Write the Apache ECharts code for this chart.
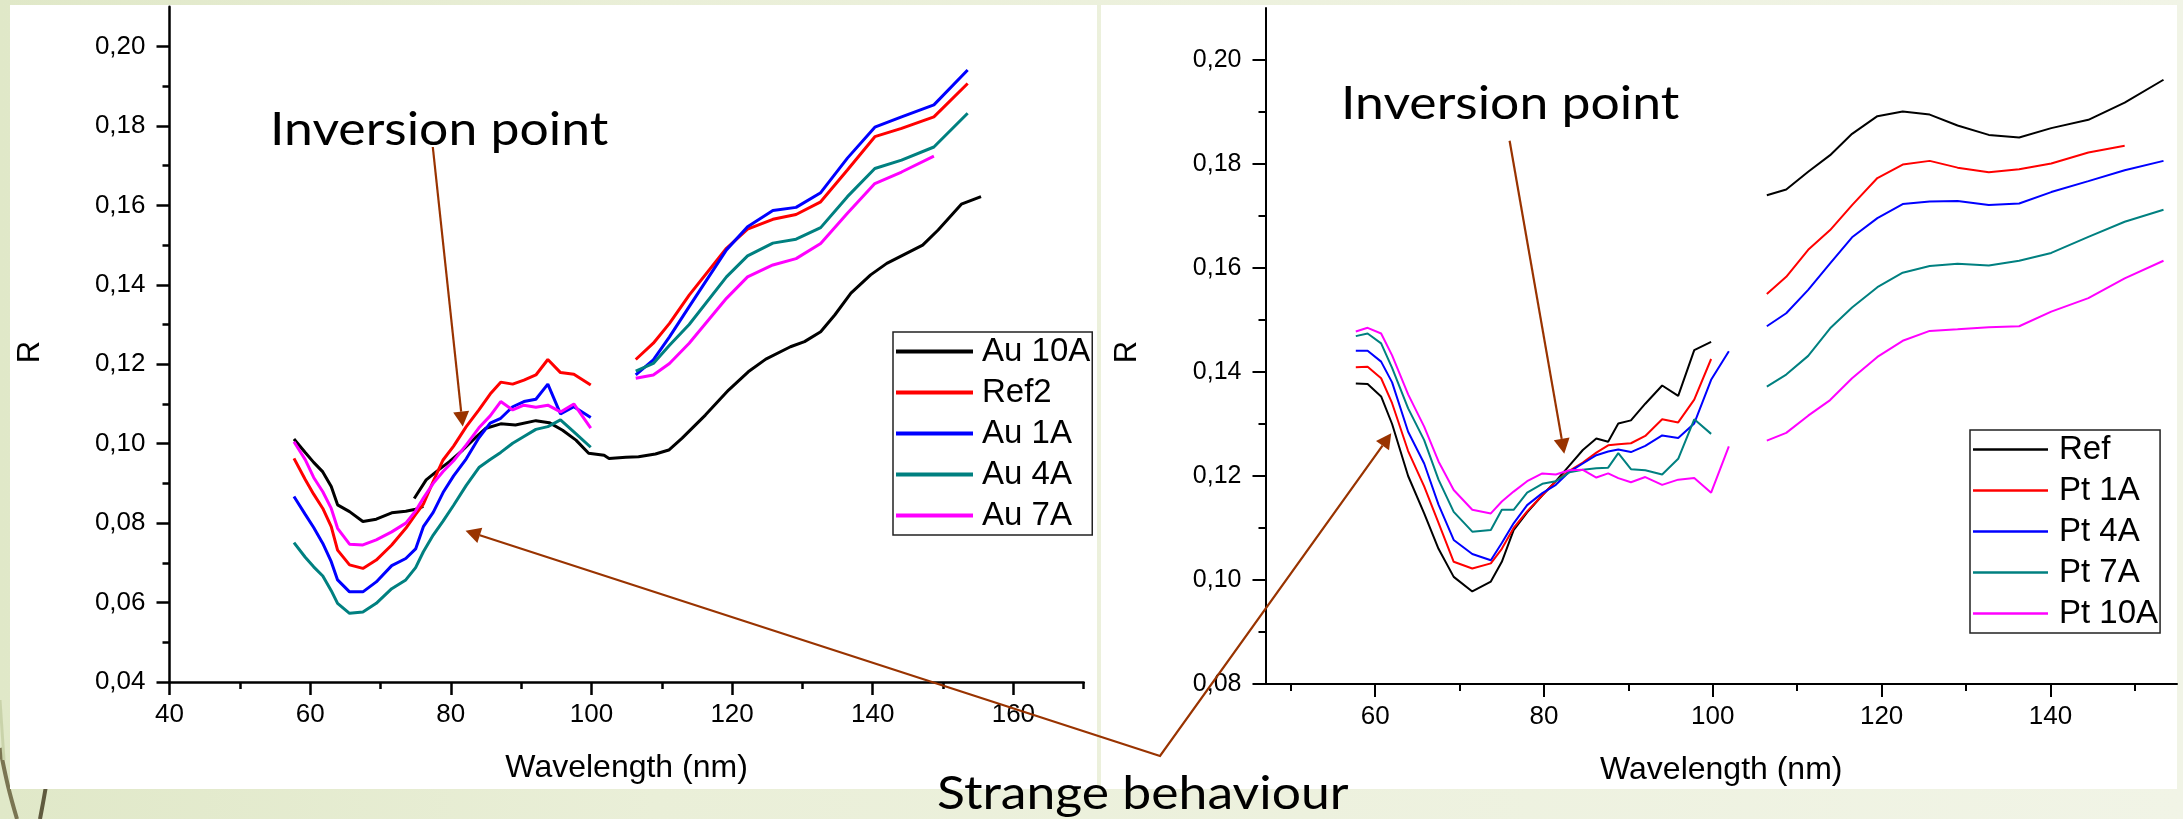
<!DOCTYPE html>
<html>
<head>
<meta charset="utf-8">
<title>Reflectance spectra: Au and Pt coatings</title>
<script src="https://cdn.jsdelivr.net/npm/echarts@6/dist/echarts.min.js"></script>
<style>
  html, body { margin: 0; padding: 0; }
  body {
    width: 2183px; height: 819px; overflow: hidden;
    background: linear-gradient(to right, #e0e8c8 0%, #eaefd8 30%, #f1f4e6 100%);
  }
  #chart { width: 2183px; height: 819px; }
</style>
</head>
<body>
<div id="chart"></div>
<script>
// ---------- Au samples (left panel) ----------
// wavelength grid of the short-wavelength scan (nm)
const auWlA = [57.7, 59.3, 60.5, 61.8, 63.0, 63.9, 65.6, 67.5, 69.4, 71.6, 73.6, 75.0, 76.1, 77.5,
               78.9, 80.4, 82.2, 84.0, 85.6, 87.1, 88.8, 90.4, 92.1, 93.8, 95.6, 97.5, 99.9];
// wavelength grid of the long-wavelength scan (nm)
const auWlB = [106.3, 108.8, 111.1, 113.9, 119.2, 122.2, 125.8, 129.1, 132.6, 136.4, 140.3, 144.1, 148.7, 153.5];

// Au 10A was recorded in two overlapping pieces on its own grid
const au10aWlA = [57.7, 59.3, 60.5, 61.8, 63.0, 63.9, 65.6, 67.5, 69.4, 71.6, 73.6, 75.0, 76.1];
const au10aA   = [0.1012, 0.0978, 0.0953, 0.0929, 0.0892, 0.0846, 0.0829, 0.0804, 0.0810, 0.0826, 0.0830, 0.0835, 0.0842];
const au10aWlB = [74.8, 76.5, 77.9, 79.8, 81.7, 83.5, 85.0, 87.1, 89.2, 92.1, 94.0, 95.9, 97.8, 99.6,
                  101.8, 102.5, 104.9, 106.7, 109.1, 111.0, 112.9, 116.2, 119.5, 122.3, 124.8, 128.3,
                  130.3, 132.6, 134.6, 136.9, 139.7, 142.0, 147.1, 149.3, 152.6, 155.4];
const au10aB   = [0.0862, 0.0909, 0.0929, 0.0955, 0.0984, 0.1015, 0.1039, 0.1050, 0.1047, 0.1058, 0.1053, 0.1034, 0.1009, 0.0976,
                  0.0971, 0.0963, 0.0966, 0.0967, 0.0974, 0.0984, 0.1014, 0.1072, 0.1135, 0.1181, 0.1213, 0.1244,
                  0.1257, 0.1282, 0.1324, 0.1379, 0.1425, 0.1454, 0.1500, 0.1538, 0.1603, 0.1622];

const ref2A = [0.0963, 0.0910, 0.0873, 0.0837, 0.0791, 0.0732, 0.0695, 0.0686, 0.0707, 0.0745, 0.0787, 0.0822, 0.0848, 0.0905,
               0.0959, 0.0994, 0.1043, 0.1085, 0.1125, 0.1155, 0.1150, 0.1160, 0.1173, 0.1212, 0.1179, 0.1175, 0.1148];
const ref2B = [0.1212, 0.1253, 0.1303, 0.1374, 0.1492, 0.1540, 0.1565, 0.1577, 0.1609, 0.1689, 0.1773, 0.1794, 0.1823, 0.1907];

const au1aA = [0.0867, 0.0822, 0.0789, 0.0749, 0.0703, 0.0657, 0.0627, 0.0627, 0.0652, 0.0693, 0.0711, 0.0735, 0.0791, 0.0827,
               0.0877, 0.0919, 0.0962, 0.1015, 0.1052, 0.1064, 0.1093, 0.1106, 0.1112, 0.1150, 0.1075, 0.1093, 0.1066];
const au1aB = [0.1173, 0.1211, 0.1269, 0.1345, 0.1488, 0.1546, 0.1587, 0.1595, 0.1632, 0.1719, 0.1797, 0.1823, 0.1853, 0.1941];

const au4aA = [0.0751, 0.0714, 0.0690, 0.0667, 0.0630, 0.0598, 0.0573, 0.0576, 0.0598, 0.0635, 0.0657, 0.0688, 0.0728, 0.0770,
               0.0805, 0.0845, 0.0895, 0.0940, 0.0960, 0.0978, 0.1001, 0.1018, 0.1036, 0.1043, 0.1060, 0.1030, 0.0991];
const au4aB = [0.1183, 0.1202, 0.1248, 0.1300, 0.1420, 0.1473, 0.1505, 0.1515, 0.1544, 0.1622, 0.1693, 0.1714, 0.1747, 0.1832];

const au7aA = [0.1005, 0.0960, 0.0915, 0.0879, 0.0837, 0.0787, 0.0747, 0.0745, 0.0758, 0.0778, 0.0800, 0.0831, 0.0863, 0.0900,
               0.0930, 0.0957, 0.0997, 0.1040, 0.1070, 0.1106, 0.1085, 0.1097, 0.1092, 0.1097, 0.1080, 0.1100, 0.1039];
const au7aB = [0.1165, 0.1173, 0.1202, 0.1253, 0.1366, 0.1420, 0.1450, 0.1466, 0.1504, 0.1580, 0.1655, 0.1684, 0.1724];

// ---------- Pt samples (right panel) ----------
const ptWlA = [57.7, 59.1, 60.7, 62.0, 63.9, 65.8, 67.5, 69.3, 71.5, 73.7, 75.0, 76.4, 78.0, 79.8,
               81.4, 83.0, 84.6, 86.2, 87.6, 88.8, 90.3, 92.0, 94.0, 95.9, 97.8, 99.8, 101.9];
const ptWlB = [106.4, 108.7, 111.3, 113.9, 116.5, 119.5, 122.5, 125.7, 129.0, 132.7, 136.3, 140.1, 144.5, 148.8, 153.4];

const refA = [0.1378, 0.1377, 0.1353, 0.1300, 0.1200, 0.1128, 0.1060, 0.1006, 0.0978, 0.0997, 0.1035, 0.1096, 0.1130, 0.1163,
              0.1190, 0.1220, 0.1250, 0.1272, 0.1266, 0.1301, 0.1307, 0.1339, 0.1374, 0.1354, 0.1442, 0.1458];
const refB = [0.1740, 0.1751, 0.1785, 0.1817, 0.1858, 0.1892, 0.1901, 0.1895, 0.1874, 0.1856, 0.1851, 0.1869, 0.1885, 0.1918, 0.1962];

const pt1aA = [0.1409, 0.1410, 0.1388, 0.1340, 0.1248, 0.1180, 0.1110, 0.1035, 0.1022, 0.1032, 0.1060, 0.1100, 0.1132, 0.1163,
               0.1190, 0.1210, 0.1226, 0.1245, 0.1259, 0.1261, 0.1263, 0.1277, 0.1309, 0.1303, 0.1347, 0.1425];
const pt1aB = [0.1550, 0.1583, 0.1635, 0.1673, 0.1721, 0.1773, 0.1799, 0.1806, 0.1793, 0.1784, 0.1790, 0.1801, 0.1822, 0.1835];

const pt4aA = [0.1441, 0.1441, 0.1420, 0.1380, 0.1285, 0.1224, 0.1145, 0.1077, 0.1050, 0.1038, 0.1071, 0.1109, 0.1144, 0.1167,
               0.1183, 0.1208, 0.1224, 0.1240, 0.1247, 0.1251, 0.1246, 0.1258, 0.1278, 0.1273, 0.1301, 0.1385, 0.1440];
const pt4aB = [0.1488, 0.1513, 0.1558, 0.1609, 0.1659, 0.1696, 0.1723, 0.1728, 0.1729, 0.1721, 0.1724, 0.1746, 0.1767, 0.1788, 0.1806];

const pt7aA = [0.1469, 0.1474, 0.1455, 0.1408, 0.1330, 0.1269, 0.1193, 0.1131, 0.1093, 0.1096, 0.1135, 0.1135, 0.1168, 0.1185,
               0.1190, 0.1207, 0.1212, 0.1215, 0.1216, 0.1244, 0.1213, 0.1211, 0.1203, 0.1233, 0.1309, 0.1281];
const pt7aB = [0.1372, 0.1395, 0.1431, 0.1484, 0.1524, 0.1563, 0.1591, 0.1604, 0.1608, 0.1605, 0.1614, 0.1629, 0.1660, 0.1689, 0.1712];

const pt10aA = [0.1478, 0.1485, 0.1474, 0.1432, 0.1357, 0.1295, 0.1228, 0.1173, 0.1135, 0.1128, 0.1151, 0.1170, 0.1190, 0.1205,
                0.1203, 0.1211, 0.1212, 0.1197, 0.1205, 0.1196, 0.1188, 0.1198, 0.1183, 0.1193, 0.1196, 0.1168, 0.1257];
const pt10aB = [0.1268, 0.1283, 0.1316, 0.1346, 0.1388, 0.1429, 0.1460, 0.1479, 0.1482, 0.1486, 0.1488, 0.1516, 0.1542, 0.1580, 0.1614];

// ---------- axis ticks ----------
const auXMajor = [40, 60, 80, 100, 120, 140, 160];
const auXMinor = [50, 70, 90, 110, 130, 150, 170];
const auYMajor = [0.04, 0.06, 0.08, 0.10, 0.12, 0.14, 0.16, 0.18, 0.20];
const auYMinor = [0.05, 0.07, 0.09, 0.11, 0.13, 0.15, 0.17, 0.19];
const ptXMajor = [60, 80, 100, 120, 140];
const ptXMinor = [50, 70, 90, 110, 130, 150];
const ptYMajor = [0.08, 0.10, 0.12, 0.14, 0.16, 0.18, 0.20];
const ptYMinor = [0.09, 0.11, 0.13, 0.15, 0.17, 0.19];

const auNames = ['Au 10A', 'Ref2', 'Au 1A', 'Au 4A', 'Au 7A'];
const ptNames = ['Ref', 'Pt 1A', 'Pt 4A', 'Pt 7A', 'Pt 10A'];
const palette = ['#000000', '#ff0000', '#0000ff', '#008080', '#ff00ff'];

const SANS = '"Liberation Sans", Arial, sans-serif';
const SLIDE = 'Lato, "Noto Sans", sans-serif';
const BROWN = '#993300';

function pairs(wl, vals) {
  return vals.map((v, i) => [wl[i], v]);
}
const comma = v => v.toFixed(2).replace('.', ',');

function lineSeries(name, color, wl, vals, axis, width) {
  return {
    type: 'line', name: name,
    xAxisIndex: axis, yAxisIndex: axis,
    data: pairs(wl, vals),
    symbol: 'none', showSymbol: false,
    itemStyle: { color: color },
    lineStyle: { color: color, width: width },
    emphasis: { disabled: true },
    animation: false
  };
}

// main axis pair (labels, long ticks) plus an overlaid pair for the short ticks
function xAxes(grid, min, max, major, minor, lw) {
  return [
    {
      type: 'value', gridIndex: grid, position: 'bottom', min: min, max: max,
      axisLine: { show: true, onZero: false, lineStyle: { color: '#000', width: lw } },
      axisTick: { show: true, customValues: major, length: 13, lineStyle: { color: '#000', width: lw } },
      axisLabel: { customValues: major, margin: 20, fontSize: 26, fontFamily: SANS, color: '#000' },
      splitLine: { show: false },
      name: 'Wavelength (nm)', nameLocation: 'middle', nameGap: 70,
      nameTextStyle: { fontSize: 32, fontFamily: SANS, color: '#000' }
    },
    {
      type: 'value', gridIndex: grid, position: 'bottom', min: min, max: max,
      axisLine: { show: false },
      axisTick: { show: true, customValues: minor, length: 7, lineStyle: { color: '#000', width: lw } },
      axisLabel: { show: false }, splitLine: { show: false }
    }
  ];
}
function yAxes(grid, min, max, major, minor, lw, fs) {
  return [
    {
      type: 'value', gridIndex: grid, position: 'left', min: min, max: max,
      axisLine: { show: true, onZero: false, lineStyle: { color: '#000', width: lw } },
      axisTick: { show: true, customValues: major, length: 13, lineStyle: { color: '#000', width: lw } },
      axisLabel: { customValues: major, margin: 24, fontSize: fs, fontFamily: SANS, color: '#000', formatter: comma },
      splitLine: { show: false }
    },
    {
      type: 'value', gridIndex: grid, position: 'left', min: min, max: max,
      axisLine: { show: false },
      axisTick: { show: true, customValues: minor, length: 7, lineStyle: { color: '#000', width: lw } },
      axisLabel: { show: false }, splitLine: { show: false }
    }
  ];
}

function legendBox(names, left, top, itemWidth, itemHeight, gap) {
  return {
    data: names, orient: 'vertical', left: left, top: top,
    icon: 'rect', itemWidth: itemWidth, itemHeight: itemHeight, itemGap: 8,
    padding: [3, 2, 3, 3], selectedMode: false,
    backgroundColor: '#ffffff', borderColor: '#222', borderWidth: 1.5,
    textStyle: { fontSize: 33, lineHeight: 33, fontFamily: SANS, color: '#000', padding: [0, 0, 0, gap] }
  };
}

const series = [
  lineSeries(auNames[0], palette[0], au10aWlA, au10aA, 0, 3),
  lineSeries(auNames[0], palette[0], au10aWlB, au10aB, 0, 3),
  lineSeries(auNames[1], palette[1], auWlA, ref2A, 0, 3),
  lineSeries(auNames[1], palette[1], auWlB, ref2B, 0, 3),
  lineSeries(auNames[2], palette[2], auWlA, au1aA, 0, 3),
  lineSeries(auNames[2], palette[2], auWlB, au1aB, 0, 3),
  lineSeries(auNames[3], palette[3], auWlA, au4aA, 0, 3),
  lineSeries(auNames[3], palette[3], auWlB, au4aB, 0, 3),
  lineSeries(auNames[4], palette[4], auWlA, au7aA, 0, 3),
  lineSeries(auNames[4], palette[4], auWlB, au7aB, 0, 3),

  lineSeries(ptNames[0], palette[0], ptWlA, refA, 2, 2),
  lineSeries(ptNames[0], palette[0], ptWlB, refB, 2, 2),
  lineSeries(ptNames[1], palette[1], ptWlA, pt1aA, 2, 2),
  lineSeries(ptNames[1], palette[1], ptWlB, pt1aB, 2, 2),
  lineSeries(ptNames[2], palette[2], ptWlA, pt4aA, 2, 2),
  lineSeries(ptNames[2], palette[2], ptWlB, pt4aB, 2, 2),
  lineSeries(ptNames[3], palette[3], ptWlA, pt7aA, 2, 2),
  lineSeries(ptNames[3], palette[3], ptWlB, pt7aB, 2, 2),
  lineSeries(ptNames[4], palette[4], ptWlA, pt10aA, 2, 2),
  lineSeries(ptNames[4], palette[4], ptWlB, pt10aB, 2, 2)
];

const chart = echarts.init(document.getElementById('chart'), null, { renderer: 'canvas' });
chart.setOption({
  animation: false,
  backgroundColor: 'transparent',
  grid: [
    { left: 169.5, top: 6.8, width: 914.2, height: 675.2 },
    { left: 1265.5, top: 8, width: 911.5, height: 676 }
  ],
  xAxis: xAxes(0, 40, 170, auXMajor, auXMinor, 2.5).concat(xAxes(1, 47, 155, ptXMajor, ptXMinor, 2)),
  yAxis: yAxes(0, 0.04, 0.21, auYMajor, auYMinor, 2.5, 26).concat(yAxes(1, 0.08, 0.21, ptYMajor, ptYMinor, 2, 25)),
  legend: [
    legendBox(auNames, 893, 332, 77, 4, 4),
    legendBox(ptNames, 1970, 430, 75, 2.5, 6)
  ],
  series: series
});

// ---------- slide decoration and annotations ----------
function px(grid, x, y) {
  return chart.convertToPixel({ gridIndex: grid }, [x, y]);
}
function head(tip, from, len, half) {
  const dx = tip[0] - from[0], dy = tip[1] - from[1];
  const d = Math.hypot(dx, dy), ux = dx / d, uy = dy / d;
  const bx = tip[0] - ux * len, by = tip[1] - uy * len;
  return {
    base: [bx, by],
    shape: {
      type: 'polygon', z: 100,
      shape: { points: [tip, [bx - uy * half, by + ux * half], [bx + uy * half, by - ux * half]] },
      style: { fill: BROWN }
    }
  };
}
function arrow(from, tip) {
  const h = head(tip, from, 15, 8);
  return [
    { type: 'line', z: 100, shape: { x1: from[0], y1: from[1], x2: h.base[0], y2: h.base[1] },
      style: { stroke: BROWN, lineWidth: 2.2 } },
    h.shape
  ];
}
// slide captions use a wide geometric look: a sans face stretched horizontally
function slideText(text, x, y) {
  return { type: 'text', z: 100, x: x, y: y, scaleX: 1.1,
    style: { text: text, fontSize: 47, fontFamily: SLIDE, fill: '#000', align: 'left', verticalAlign: 'middle' } };
}
function axisTitle(text, x, y) {
  return { type: 'text', z: 50, x: x, y: y, rotation: Math.PI / 2,
    style: { text: text, fontSize: 31, fontFamily: SANS, fill: '#000', align: 'center', verticalAlign: 'middle' } };
}
function stalk(points, color, width) {
  return { type: 'polyline', z: -20, shape: { points: points, smooth: 0.4 },
    style: { stroke: color, lineWidth: width, fill: null } };
}

// arrow tips sit on the curves they point at
const tipAuInv = px(0, 81.7, 0.1043);
const tipAuOdd = px(0, 82.1, 0.0781);
const tipPtInv = px(1, 82.4, 0.1243);
const tipPtOdd = px(1, 61.9, 0.1282);
const knee = [1160, 756];

const hAu = head(tipAuOdd, knee, 15, 8);
const hPt = head(tipPtOdd, knee, 15, 8);

const graphics = [
  // slide stems peeking out at the lower-left corner
  stalk([[0, 748], [8, 786], [17, 819]], '#7a7552', 4),
  stalk([[46, 786], [43, 803], [40, 819]], '#5f5a3e', 4),
  stalk([[0, 700], [4, 760]], '#c9d3aa', 3),
  { type: 'rect', z: -10, shape: { x: 10, y: 5, width: 1087, height: 784 }, style: { fill: '#ffffff' } },
  { type: 'rect', z: -10, shape: { x: 1101, y: 5, width: 1076, height: 784 }, style: { fill: '#ffffff' } },
  axisTitle('R', 30, 352),
  axisTitle('R', 1127, 352),
  slideText('Inversion point', 270, 130),
  slideText('Inversion point', 1341, 104),
  slideText('Strange behaviour', 937, 794),
  { type: 'polyline', z: 100, shape: { points: [hAu.base, knee, hPt.base] },
    style: { stroke: BROWN, lineWidth: 2.2, fill: null } },
  hAu.shape, hPt.shape
].concat(arrow([432.8, 147], tipAuInv), arrow([1509.6, 140.7], tipPtInv));

chart.setOption({ graphic: graphics });
</script>
</body>
</html>
